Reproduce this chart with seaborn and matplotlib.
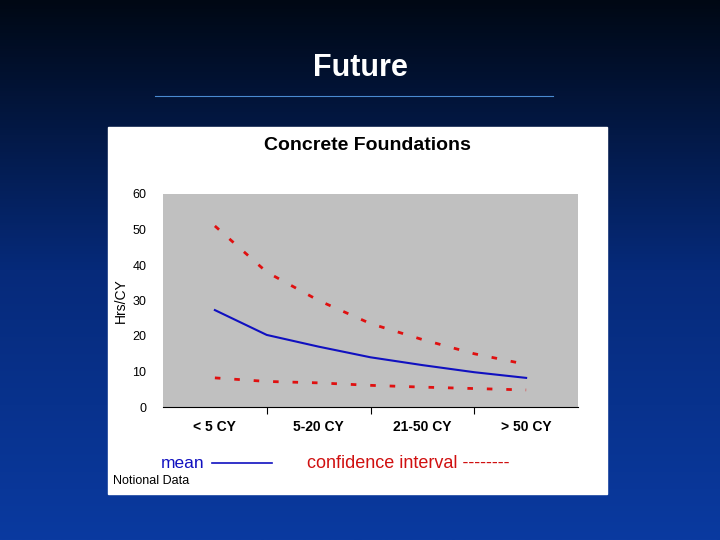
import numpy as np
import pandas as pd
import matplotlib
matplotlib.use("Agg")
import matplotlib.pyplot as plt
import seaborn as sns

categories = ["< 5 CY", "5-20 CY", "21-50 CY", "> 50 CY"]
x_pos = [0, 0.5, 1, 1.5, 2, 2.5, 3]
mean_vals = [27.3, 20.3, 17.0, 14.0, 11.8, 9.8, 8.2]
upper_vals = [51.0, 38.0, 30.0, 23.5, 19.0, 15.0, 12.0]
lower_vals = [8.2, 7.2, 6.8, 6.1, 5.6, 5.2, 4.8]
y_ticks = [0, 10, 20, 30, 40, 50, 60]

fig = plt.figure(figsize=(7.2, 5.4), dpi=100)
bg = fig.add_axes([0, 0, 1, 1])
grad = np.linspace(0, 1, 256)[:, None]
cmap = matplotlib.colors.LinearSegmentedColormap.from_list("bg", ["#000814", "#062a7a", "#0a3aa0"])
bg.imshow(grad, aspect="auto", cmap=cmap, extent=[0, 1, 0, 1], origin="upper")
bg.set_xlim(0, 1); bg.set_ylim(0, 1); bg.axis("off")
bg.text(0.5, 1 - 68 / 540, "Future", color="white", fontsize=22, fontweight="bold",
        ha="center", va="center", family="Liberation Sans")
bg.plot([155 / 720, 553 / 720], [1 - 96 / 540] * 2, color="#4a8ad0", lw=0.8)
bg.add_patch(plt.Rectangle((108 / 720, 1 - 494 / 540), 499 / 720, 367 / 540, color="white"))
bg.text(367 / 720, 1 - 145 / 540, "Concrete Foundations", fontsize=14, fontweight="bold",
        ha="center", va="center", family="Liberation Sans")
bg.text(183 / 720, 1 - 463 / 540, "mean", color="#1010c0", fontsize=12.5, ha="center", va="center",
        family="Liberation Sans")
bg.plot([212 / 720, 272 / 720], [1 - 463 / 540] * 2, color="#1010c0", lw=1.2)
bg.text(408 / 720, 1 - 463 / 540, "confidence interval --------", color="#d01010", fontsize=13,
        ha="center", va="center", family="Liberation Sans")
bg.text(113 / 720, 1 - 481 / 540, "Notional Data", fontsize=9, ha="left", va="center",
        family="Liberation Sans")

ax = fig.add_axes([163 / 720, 1 - 407 / 540, 415 / 720, 213 / 540])
ax.set_facecolor("#c0c0c0")
df = pd.DataFrame({"x": x_pos, "mean": mean_vals, "upper": upper_vals, "lower": lower_vals})
sns.lineplot(data=df, x="x", y="mean", ax=ax, color="#1010c0", lw=1.5)
sns.lineplot(data=df, x="x", y="upper", ax=ax, color="#e01010", lw=2, linestyle=(0, (2, 5)))
sns.lineplot(data=df, x="x", y="lower", ax=ax, color="#e01010", lw=2, linestyle=(0, (2, 5)))
ax.set_xlim(-0.5, 3.5)
ax.set_ylim(0, 60)
ax.set_yticks(y_ticks)
ax.set_yticklabels([str(v) for v in y_ticks], fontsize=9, family="Liberation Sans")
ax.tick_params(axis="y", length=0, pad=12)
ax.set_xticks([0.5, 1.5, 2.5])
ax.set_xticklabels([])
ax.tick_params(axis="x", length=5, direction="out")
for i, c in enumerate(categories):
    ax.text(i, -5.5, c, ha="center", va="center", fontsize=10, fontweight="bold",
            family="Liberation Sans", transform=ax.transData, clip_on=False)
ax.set_xlabel("")
ax.set_ylabel("Hrs/CY", fontsize=10, family="Liberation Sans", labelpad=3)
for s in ["top", "right", "left"]:
    ax.spines[s].set_visible(False)
ax.spines["bottom"].set_color("black")

fig.savefig("out.png", dpi=100)
